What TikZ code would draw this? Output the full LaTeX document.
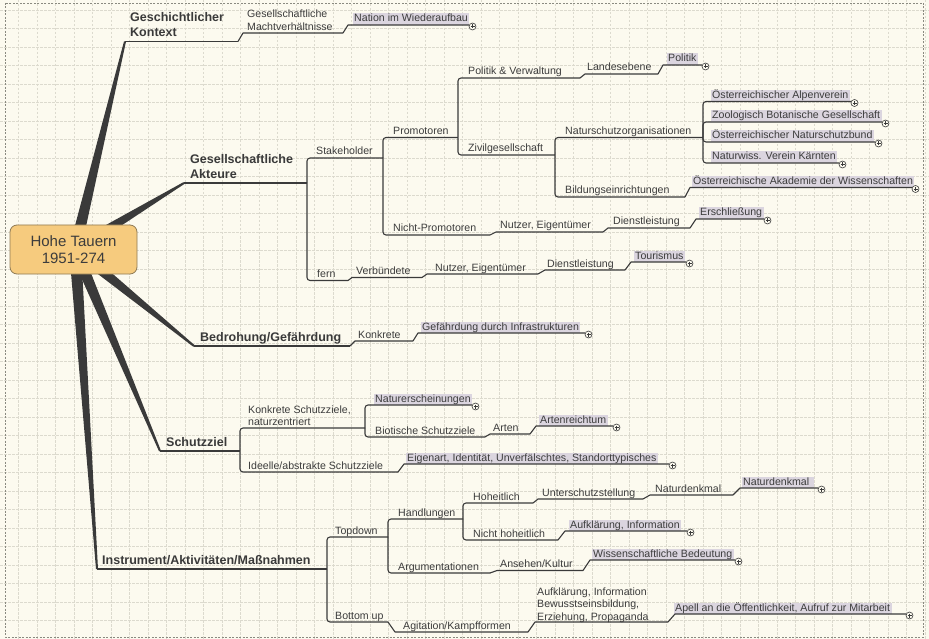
\documentclass[tikz,border=0pt]{standalone}
\usepackage{fontspec}
\setmainfont{Liberation Sans}
\usetikzlibrary{calc}
\definecolor{bg}{HTML}{FCFAEF}
\definecolor{gridc}{HTML}{DCDACE}
\definecolor{framec}{HTML}{8A8A80}
\definecolor{ink}{HTML}{3A3A3A}
\definecolor{txt}{HTML}{3C3C3C}
\definecolor{hl}{HTML}{DBD5DF}
\definecolor{rootfill}{HTML}{F6CB7E}
\definecolor{rootdraw}{HTML}{8E7A55}
\tikzset{
  lbl/.style={anchor=base west, inner sep=0pt, text=txt, align=left, font=\fontsize{10.6}{12.5}\selectfont},
  mainlbl/.style={lbl, font=\bfseries\fontsize{12.5}{15}\selectfont, text=ink},
  leaf/.style={lbl, fill=hl, inner xsep=1.5pt, inner ysep=1pt, text height=7.5pt, text depth=2pt},
  conn/.style={draw=ink, line width=1.1pt, line join=round},
  mainconn/.style={draw=ink, line width=1.3pt},
  brk/.style={conn, rounded corners=3pt},
  gridline/.style={draw=gridc, line width=0.5pt, dash pattern=on 2.5pt off 1.5pt},
  rootbox/.style={rectangle, rounded corners=7pt, draw=rootdraw, line width=0.8pt, fill=rootfill,
    minimum width=127pt, minimum height=49pt, align=center, text=txt, font=\fontsize{15}{17.5}\selectfont},
  plus/.style={circle, draw=ink, line width=0.6pt, fill=bg, minimum size=7pt, inner sep=0pt,
    path picture={\draw[ink, line width=0.6pt]
      ($(path picture bounding box.center)+(-2,0)$) -- ($(path picture bounding box.center)+(2,0)$)
      ($(path picture bounding box.center)+(0,-2)$) -- ($(path picture bounding box.center)+(0,2)$);}}
}
% name, x0, x1, y (underline), text x, text baseline (last line), style, text
\newcommand\mm[8]{\coordinate (#1s) at (#2,#4);\coordinate (#1e) at (#3,#4);\node[#7] (#1) at (#5,#6) {#8};}
\newcommand\mmwedge[2]{\fill[ink] ($(#1)!6pt!90:(#2)$) -- ($(#2)!1pt!-90:(#1)$) -- ($(#2)!1pt!90:(#1)$) -- ($(#1)!6pt!-90:(#2)$) -- cycle;}
\newcommand\mmplus[1]{\node[plus] (#1p) at ($(#1e)+(3.5,1.5)$) {};}
\begin{document}
\begin{tikzpicture}[x=1pt,y=-1pt]
\useasboundingbox (0,0) rectangle (929,639);
\fill[bg] (0,0) rectangle (929,639);
\foreach \i in {1,...,50} {\draw[gridline] (\i*18.5,0) -- (\i*18.5,639);}
\foreach \j in {0,...,34} {\draw[gridline] (0,10+\j*18.5) -- (929,10+\j*18.5);}
\draw[framec, line width=0.7pt, dash pattern=on 2pt off 1.5pt] (5,3) rectangle (923,637);

% ---------- topics ----------
\mm{gk}{125}{238}{41.5}{130}{37}{mainlbl}{Geschichtlicher\\Kontext}
\mm{gm}{243}{343}{33}{247}{30.5}{lbl}{Gesellschaftliche\\Machtverhältnisse}
\mm{nat}{348}{469}{25}{352.5}{22}{leaf}{Nation im Wiederaufbau}

\mm{ga}{184}{307}{183}{190}{178.5}{mainlbl}{Gesellschaftliche\\Akteure}
\mm{stk}{307}{383}{158}{316}{155}{lbl}{Stakeholder}
\mm{fern}{307}{348}{280.5}{317}{277.5}{lbl}{fern}
\mm{prom}{383}{458}{137.5}{393}{134.5}{lbl}{Promotoren}
\mm{npr}{383}{490}{235}{393}{232}{lbl}{Nicht-Promotoren}
\mm{pv}{458}{580}{78}{468}{75}{lbl}{Politik \& Verwaltung}
\mm{land}{585}{658}{74}{587}{71}{lbl}{Landesebene}
\mm{pol}{663}{702}{65}{666.5}{62}{leaf}{Politik}
\mm{ziv}{458}{555}{155}{468}{152}{lbl}{Zivilgesellschaft}
\mm{nso}{555}{703}{137.5}{565}{134.5}{lbl}{Naturschutzorganisationen}
\mm{bild}{555}{685}{197}{565}{194}{lbl}{Bildungseinrichtungen}
\mm{alp}{703}{851}{101.5}{710.5}{98.5}{leaf}{Österreichischer Alpenverein}
\mm{zoo}{703}{882}{122}{710.5}{119}{leaf}{Zoologisch Botanische Gesellschaft}
\mm{nsb}{703}{875}{142}{710.5}{139}{leaf}{Österreichischer Naturschutzbund}
\mm{nwv}{703}{839}{163}{710.5}{160}{leaf}{Naturwiss. Verein Kärnten}
\mm{oaw}{690}{912}{187.5}{691.5}{184.5}{leaf}{Österreichische Akademie der Wissenschaften}
\mm{nuA}{496}{603}{232}{500}{229}{lbl}{Nutzer, Eigentümer}
\mm{dlA}{608}{690}{228}{613}{225}{lbl}{Dienstleistung}
\mm{ers}{696}{764}{219}{698.5}{216}{leaf}{Erschließung}
\mm{vb}{352}{422}{277.5}{356}{274.5}{lbl}{Verbündete}
\mm{nuB}{427}{538}{274}{435}{271}{lbl}{Nutzer, Eigentümer}
\mm{dlB}{545}{625}{270}{547}{267}{lbl}{Dienstleistung}
\mm{tou}{631}{686}{262}{633.5}{259}{leaf}{Tourismus}

\mm{bed}{194}{350}{346}{200}{341.5}{mainlbl}{Bedrohung/Gefährdung}
\mm{kon}{355}{413}{341}{358}{338}{lbl}{Konkrete}
\mm{gef}{418}{585}{333}{420.5}{330}{leaf}{Gefährdung durch Infrastrukturen}

\mm{sz}{160}{240}{451}{166}{446.5}{mainlbl}{Schutzziel}
\mm{ks}{240}{365}{428}{248}{425.5}{lbl}{Konkrete Schutzziele,\\naturzentriert}
\mm{ide}{240}{398}{472}{248}{469}{lbl}{Ideelle/abstrakte Schutzziele}
\mm{ner}{365}{472}{405}{373.5}{402}{leaf}{Naturerscheinungen}
\mm{bio}{365}{485}{437}{375}{434}{lbl}{Biotische Schutzziele}
\mm{art}{490}{530}{434}{493}{431}{lbl}{Arten}
\mm{arr}{536}{613}{426}{538.5}{423}{leaf}{Artenreichtum}
\mm{eig}{404}{669}{464}{405.5}{461}{leaf}{Eigenart, Identität, Unverfälschtes, Standorttypisches}

\mm{ins}{97}{327}{569}{102}{564.5}{mainlbl}{Instrument/Aktivitäten/Maßnahmen}
\mm{tpd}{327}{388}{537}{335}{534}{lbl}{Topdown}
\mm{btu}{327}{388}{622}{335}{619}{lbl}{Bottom up}
\mm{han}{388}{463}{519}{398}{516}{lbl}{Handlungen}
\mm{arg}{388}{490}{573}{398}{570}{lbl}{Argumentationen}
\mm{hoh}{463}{533}{503}{473}{500}{lbl}{Hoheitlich}
\mm{nho}{463}{558}{540}{473}{537}{lbl}{Nicht hoheitlich}
\mm{uss}{538}{643}{499}{542}{496}{lbl}{Unterschutzstellung}
\mm{ndA}{650}{733}{495}{655}{492}{lbl}{Naturdenkmal}
\mm{ndB}{740}{818}{488}{741.5}{485}{leaf}{Naturdenkmal\hspace{3pt}}
\mm{afA}{565}{687}{531}{568.5}{528}{leaf}{Aufklärung, Information}
\mm{ans}{497}{583}{570.5}{500}{567.5}{lbl}{Ansehen/Kultur}
\mm{wis}{590}{735}{560}{591.5}{557}{leaf}{Wissenschaftliche Bedeutung}
\mm{agi}{395}{528}{632}{403}{629}{lbl}{Agitation/Kampfformen}
\mm{afB}{535}{668}{622}{537}{620}{lbl}{Aufklärung, Information\\Bewusstseinsbildung,\\Erziehung, Propaganda}
\mm{ape}{675}{906}{614}{673.5}{611}{leaf}{Apell an die Öffentlichkeit, Aufruf zur Mitarbeit}

% ---------- main wedges and root ----------
\coordinate (rc) at (75,249);
\mmwedge{rc}{gks}
\mmwedge{rc}{gas}
\mmwedge{rc}{beds}
\mmwedge{rc}{szs}
\mmwedge{rc}{inss}
\node[rootbox] (root) at (73.5,249.5) {Hohe Tauern\\1951-274};

\draw[mainconn] (gks) -- (gke);
\draw[mainconn] (gas) -- (gae);
\draw[mainconn] (beds) -- (bede);
\draw[mainconn] (szs) -- (sze);
\draw[mainconn] (inss) -- (inse);

% ---------- connectors ----------
\draw[conn] (gke) -- (gms) -- (gme);
\draw[conn] (gme) -- (nats) -- (nate);

\draw[brk] (gae) |- (stke);
\draw[brk] (gae) |- (ferne);
\draw[brk] (stke) |- (prome);
\draw[brk] (stke) |- (npre);
\draw[brk] (prome) |- (pve);
\draw[brk] (prome) |- (zive);
\draw[conn] (pve) -- (lands) -- (lande);
\draw[conn] (lande) -- (pols) -- (pole);
\draw[brk] (zive) |- (nsoe);
\draw[brk] (zive) |- (bilde);
\draw[brk] (nsoe) |- (alpe);
\draw[brk] (nsoe) |- (zooe);
\draw[brk] (nsoe) |- (nsbe);
\draw[brk] (nsoe) |- (nwve);
\draw[conn] (bilde) -- (oaws) -- (oawe);
\draw[conn] (npre) -- (nuAs) -- (nuAe);
\draw[conn] (nuAe) -- (dlAs) -- (dlAe);
\draw[conn] (dlAe) -- (erss) -- (erse);
\draw[conn] (ferne) -- (vbs) -- (vbe);
\draw[conn] (vbe) -- (nuBs) -- (nuBe);
\draw[conn] (nuBe) -- (dlBs) -- (dlBe);
\draw[conn] (dlBe) -- (tous) -- (toue);

\draw[conn] (bede) -- (kons) -- (kone);
\draw[conn] (kone) -- (gefs) -- (gefe);

\draw[brk] (sze) |- (kse);
\draw[brk] (sze) |- (idee);
\draw[brk] (kse) |- (nere);
\draw[brk] (kse) |- (bioe);
\draw[conn] (bioe) -- (arts) -- (arte);
\draw[conn] (arte) -- (arrs) -- (arre);
\draw[conn] (idee) -- (eigs) -- (eige);

\draw[brk] (inse) |- (tpde);
\draw[brk] (inse) |- (btue);
\draw[brk] (tpde) |- (hane);
\draw[brk] (tpde) |- (arge);
\draw[brk] (hane) |- (hohe);
\draw[brk] (hane) |- (nhoe);
\draw[conn] (hohe) -- (usss) -- (usse);
\draw[conn] (usse) -- (ndAs) -- (ndAe);
\draw[conn] (ndAe) -- (ndBs) -- (ndBe);
\draw[conn] (nhoe) -- (afAs) -- (afAe);
\draw[conn] (arge) -- (anss) -- (anse);
\draw[conn] (anse) -- (wiss) -- (wise);
\draw[conn] (btue) -- (agis) -- (agie);
\draw[conn] (agie) -- (afBs) -- (afBe);
\draw[conn] (afBe) -- (apes) -- (apee);

% ---------- expand markers ----------
\mmplus{nat}\mmplus{pol}\mmplus{alp}\mmplus{zoo}\mmplus{nsb}\mmplus{nwv}\mmplus{oaw}
\mmplus{ers}\mmplus{tou}\mmplus{gef}\mmplus{ner}\mmplus{arr}\mmplus{eig}
\mmplus{ndB}\mmplus{afA}\mmplus{wis}\mmplus{ape}
\end{tikzpicture}
\end{document}
